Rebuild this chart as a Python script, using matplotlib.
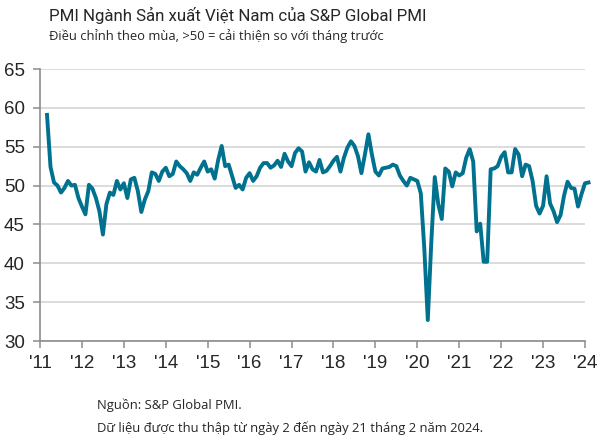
import matplotlib.pyplot as plt
import numpy as np
import pandas as pd

# Vietnam manufacturing PMI, monthly, Mar 2011 - Feb 2024
months = pd.date_range("2011-03-01", "2024-02-01", freq="MS")
pmi = [
    59.1, 52.4, 50.4, 50.0, 49.1, 49.7, 50.6, 50.0, 50.1, 48.4,                # 2011
    47.3, 46.3, 50.1, 49.6, 48.4, 46.7, 43.7, 47.6, 49.1, 48.8, 50.6, 49.5,    # 2012
    50.3, 48.4, 50.8, 51.0, 49.3, 46.6, 48.2, 49.3, 51.7, 51.5, 50.6, 51.8,    # 2013
    52.3, 51.2, 51.5, 53.1, 52.5, 52.1, 51.6, 50.6, 51.7, 51.4, 52.3, 53.1,    # 2014
    51.8, 52.1, 50.9, 53.3, 55.1, 52.5, 52.7, 51.2, 49.7, 50.1, 49.5, 51.0,    # 2015
    51.6, 50.6, 51.2, 52.3, 52.9, 52.9, 52.3, 52.6, 53.2, 52.4, 54.1, 53.1,    # 2016
    52.5, 54.2, 54.8, 54.4, 51.8, 53.0, 52.1, 51.8, 53.3, 51.7, 51.9, 52.5,    # 2017
    53.2, 53.7, 51.8, 53.6, 54.9, 55.7, 55.1, 53.8, 51.6, 54.0, 56.6, 54.0,    # 2018
    51.8, 51.3, 52.2, 52.3, 52.4, 52.7, 52.5, 51.3, 50.6, 50.0, 51.0, 50.8,    # 2019
    50.6, 49.0, 41.9, 32.7, 42.7, 51.1, 47.6, 45.7, 52.2, 51.8, 49.9, 51.7,    # 2020
    51.3, 51.6, 53.6, 54.7, 53.1, 44.1, 45.1, 40.2, 40.2, 52.1, 52.2, 52.5,    # 2021
    53.7, 54.3, 51.7, 51.7, 54.7, 54.0, 51.2, 52.7, 52.5, 50.6, 47.4, 46.4,    # 2022
    47.4, 51.2, 47.7, 46.7, 45.3, 46.2, 48.7, 50.5, 49.7, 49.6, 47.3, 48.9,    # 2023
    50.3, 50.4,                                                                # 2024
]
years = list(range(2011, 2025))
year_labels = [f"'{y % 100:02d}" for y in years]
y_ticks = [30, 35, 40, 45, 50, 55, 60, 65]

title = "PMI Ngành Sản xuất Việt Nam của S&P Global PMI"
subtitle = "Điều chỉnh theo mùa, >50 = cải thiện so với tháng trước"
source = "Nguồn: S&P Global PMI."
note = "Dữ liệu được thu thập từ ngày 2 đến ngày 21 tháng 2 năm 2024."

line_color = '#00718f'
grid_color = '#d9d9d9'
axis_color = '#8c8c8c'
text_color = '#262626'
text_font = ['Open Sans', 'DejaVu Sans']
title_font = ['Roboto', 'DejaVu Sans']
tick_font = ['Liberation Sans', 'DejaVu Sans']

x = months.year + (months.month - 1) / 12.0

fig = plt.figure(figsize=(6, 4.43), dpi=100)
ax = fig.add_axes([0.0667, 0.2302, 0.9083, 0.614])

ax.plot(x, pmi, color=line_color, lw=2.8, solid_joinstyle='round', clip_on=False, zorder=3)

ax.set_xlim(2011, 2024)
ax.set_ylim(30, 65)
ax.set_yticks(y_ticks)
ax.set_xticks(years)
ax.set_xticklabels(year_labels)
ax.yaxis.grid(True, color=grid_color, lw=1.3)
ax.set_axisbelow(True)

for side in ['top', 'right']:
    ax.spines[side].set_visible(False)
for side in ['left', 'bottom']:
    ax.spines[side].set_color(axis_color)
    ax.spines[side].set_linewidth(1.2)
ax.tick_params(axis='both', colors=axis_color, length=5, width=1.1, direction='out')
ax.tick_params(axis='y', labelcolor=text_color, labelsize=13.5, pad=6)
ax.tick_params(axis='x', labelcolor=text_color, labelsize=13.5, pad=5)
for lbl in ax.get_xticklabels() + ax.get_yticklabels():
    lbl.set_family(tick_font)

fig.text(49 / 600, 1 - 15 / 443, title, family=title_font, fontsize=12.2,
         color=text_color, va='center', ha='left')
fig.text(49 / 600, 1 - 36 / 443, subtitle, family=text_font, fontsize=9.4,
         color=text_color, va='center', ha='left')
fig.text(97 / 600, 1 - 405 / 443, source, family=text_font, fontsize=9.4,
         color=text_color, va='center', ha='left')
fig.text(97 / 600, 1 - 428 / 443, note, family=text_font, fontsize=9.4,
         color=text_color, va='center', ha='left')

fig.savefig('out.png', dpi=100)
